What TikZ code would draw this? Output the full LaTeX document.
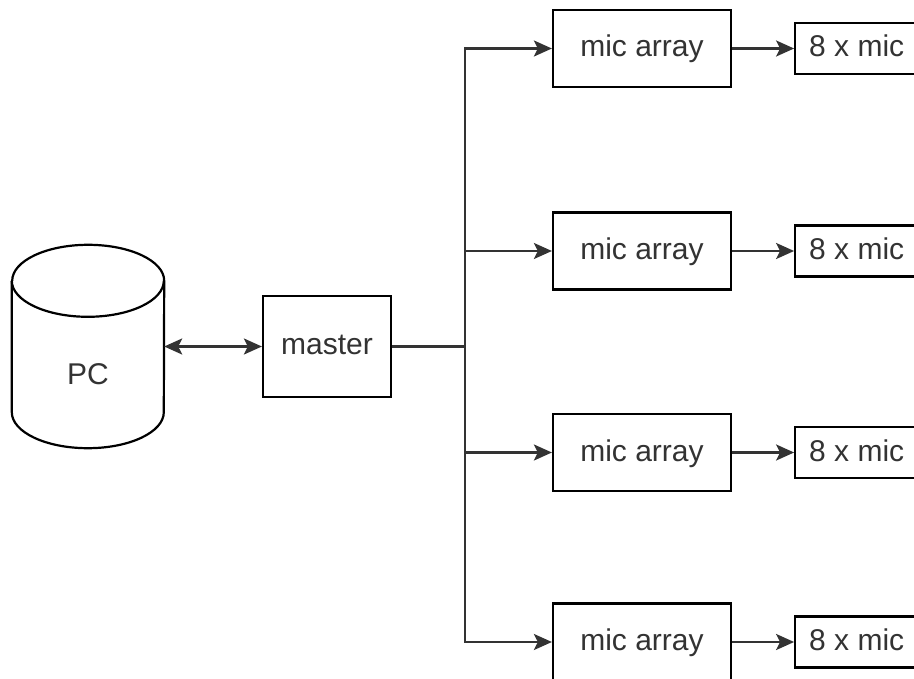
\documentclass[tikz,border=0pt]{standalone}
\usepackage{fontspec}
\setmainfont{Liberation Sans}
\usetikzlibrary{positioning,arrows.meta}

\begin{document}
\begin{tikzpicture}[
  x=1pt, y=-1pt,
  font=\fontsize{30}{36}\selectfont,
  >={Stealth[length=18pt,width=16pt,inset=4pt]},
  block/.style={draw=black, line width=2.2pt, fill=white, inner sep=0pt,
                text=black!80, text height=21pt, text depth=4pt},
  ctrl/.style={block, minimum width=128pt, minimum height=101pt},
  array/.style={block, minimum width=178pt, minimum height=77pt},
  mics/.style={block, minimum width=123pt, minimum height=51pt},
  host/.style={minimum width=152pt, minimum height=203pt, inner sep=0pt},
  wire/.style={line width=2.4pt, draw=black!80},
  flow/.style={wire, ->},
  both/.style={wire, <->},
]
\useasboundingbox (0,0) rectangle (914,679);

% the computer, drawn as a drum
\node[host] (pc) at (88,346.5) {};
\draw[line width=2.2pt]
  ([yshift=-36pt]pc.north west) -- ([yshift=36pt]pc.south west)
  arc[start angle=180, end angle=360, x radius=76pt, y radius=36pt]
  -- ([yshift=-36pt]pc.north east)
  arc[start angle=0, end angle=180, x radius=76pt, y radius=36pt];
\draw[line width=2.2pt] ([yshift=-36pt]pc.north west)
  arc[start angle=180, end angle=360, x radius=76pt, y radius=36pt];
\node[text=black!80, text height=21pt, text depth=0pt, inner sep=0pt]
  (pclabel) at (88,374) {PC};

\node[ctrl] (master) at (327,346.5) {master};
\coordinate (hub) at (465,346.5);

% four arrays on the bus
\node[array] (arr1) at (642,48.5) {mic array};
\node[array] (arr2) at (642,251) {mic array};
\node[array] (arr3) at (642,452.5) {mic array};
\node[array] (arr4) at (642,642) {mic array};

\node[mics, right=62pt of arr1] (mic1) {8 x mic};
\node[mics, right=62pt of arr2] (mic2) {8 x mic};
\node[mics, right=62pt of arr3] (mic3) {8 x mic};
\node[mics, right=62pt of arr4] (mic4) {8 x mic};

\draw[both] (pc.east) -- (master.west);
\draw[wire] (master.east) -- (hub);
\draw[flow] (hub) |- (arr1.west);
\draw[flow] (hub) |- (arr2.west);
\draw[flow] (hub) |- (arr3.west);
\draw[flow] (hub) |- (arr4.west);

\draw[flow] (arr1) -- (mic1);
\draw[flow] (arr2) -- (mic2);
\draw[flow] (arr3) -- (mic3);
\draw[flow] (arr4) -- (mic4);
\end{tikzpicture}
\end{document}
